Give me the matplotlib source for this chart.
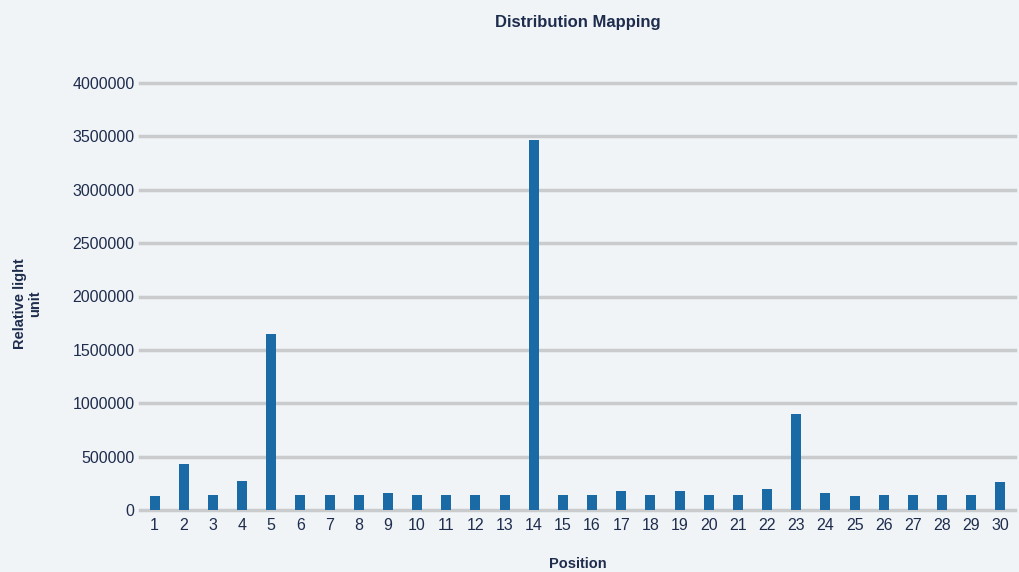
import matplotlib.pyplot as plt

# positions and measured relative light units
positions = list(range(1, 31))
values = [130000, 430000, 145000, 275000, 1650000, 145000, 145000, 145000, 160000, 145000,
          145000, 145000, 145000, 3470000, 145000, 145000, 182000, 145000, 182000, 145000,
          145000, 200000, 895000, 160000, 128000, 145000, 145000, 145000, 145000, 258000]
y_ticks = [0, 500000, 1000000, 1500000, 2000000, 2500000, 3000000, 3500000, 4000000]

bg = '#f1f4f7'
text_color = '#1e2d4d'
plt.rcParams['font.family'] = ['Liberation Sans', 'DejaVu Sans']

fig = plt.figure(figsize=(10.2, 5.72), dpi=100, facecolor=bg)
ax = fig.add_axes([140 / 1020, 1 - 510 / 572, 875 / 1020, 427 / 572], facecolor=bg)

# grid lines
for t in y_ticks:
    ax.axhline(t, color='#c9cbcd', lw=2.5, zorder=0, clip_on=False)

ax.bar(positions, values, width=0.34, color='#1a6aa6', zorder=2)

ax.set_xlim(0.5, 30.5)
ax.set_ylim(0, 4000000)
ax.set_xticks(positions)
ax.set_yticks(y_ticks)
ax.set_yticklabels([str(t) for t in y_ticks])
ax.tick_params(axis='both', length=0, labelsize=11.5, labelcolor=text_color)
ax.tick_params(axis='x', pad=6)
ax.tick_params(axis='y', pad=4)
for s in ax.spines.values():
    s.set_visible(False)

ax.set_title('Distribution Mapping', fontsize=12, fontweight='bold', color=text_color, pad=40)
ax.set_xlabel('Position', fontsize=10.5, fontweight='bold', color=text_color, labelpad=17)
fig.text(28 / 1020, 1 - 304 / 572, 'Relative light\nunit', rotation=90, ha='center', va='center',
         fontsize=10.5, fontweight='bold', color=text_color, linespacing=1.1)

fig.savefig('out.png', dpi=100, facecolor=bg)
